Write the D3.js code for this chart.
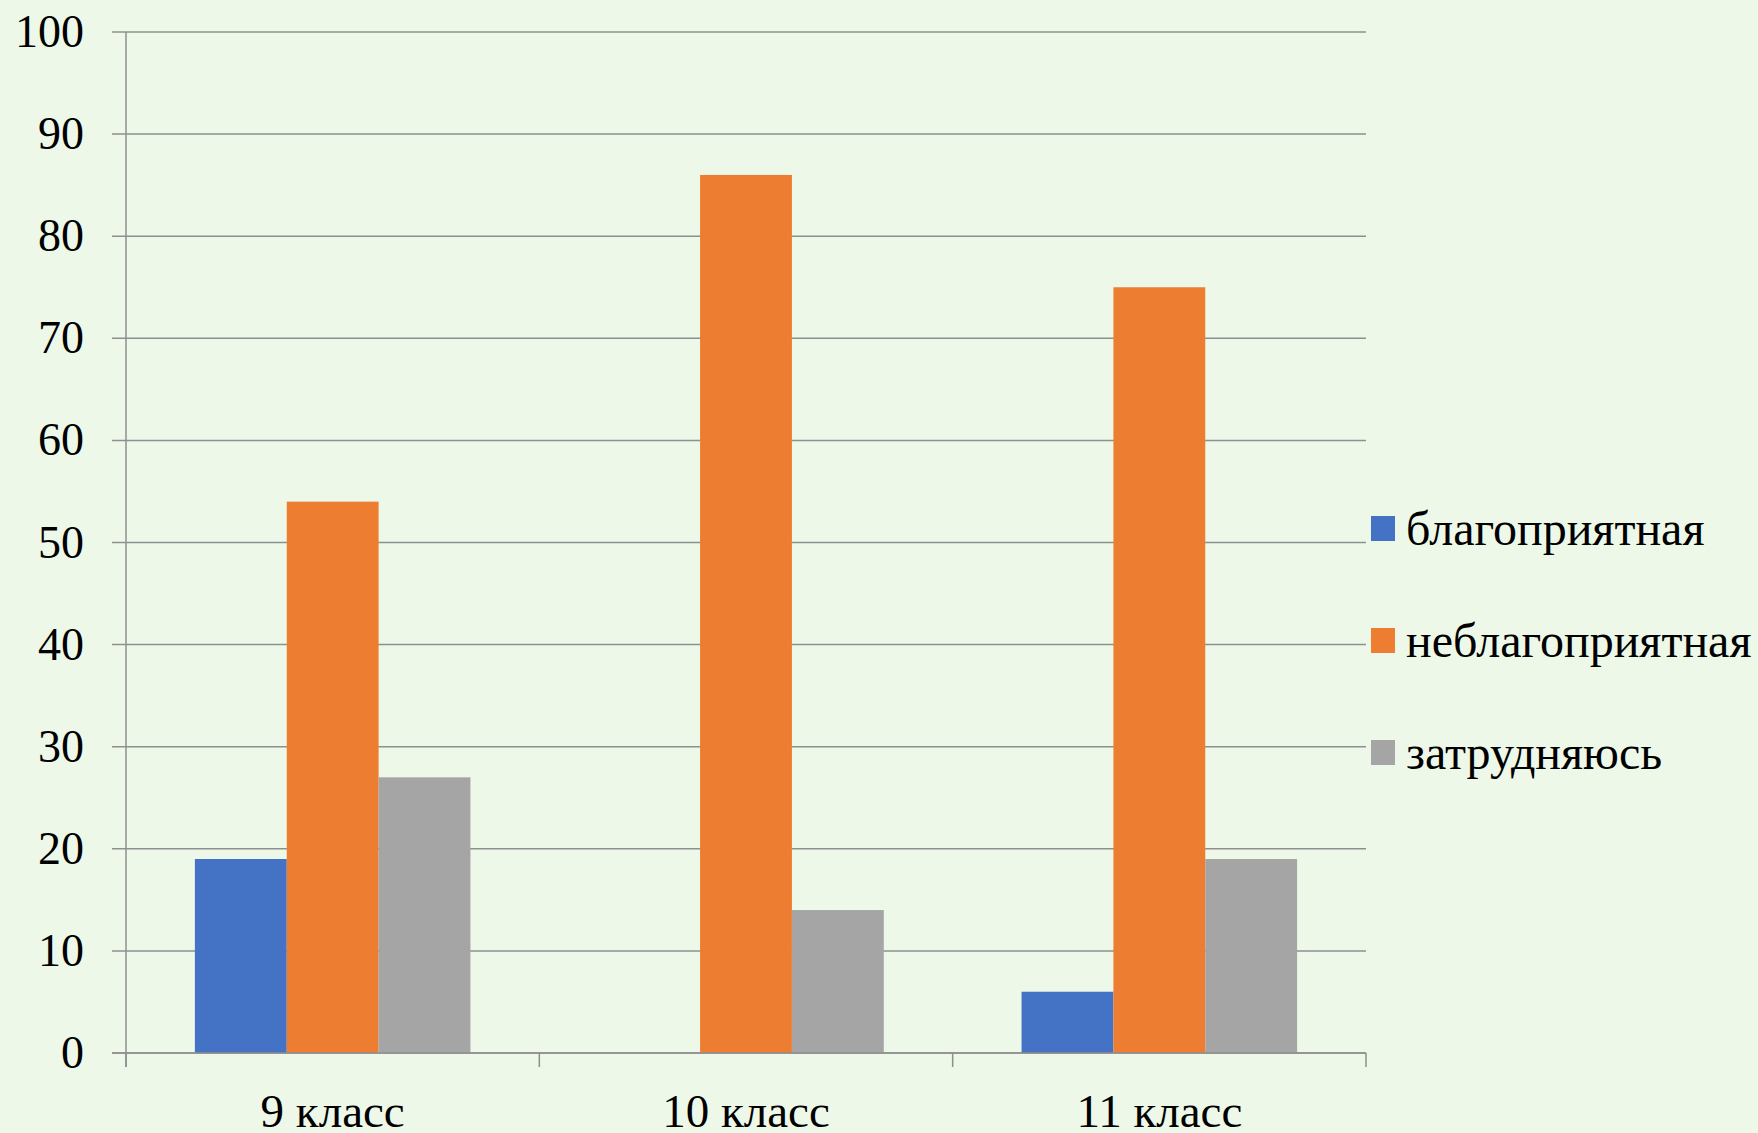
<!DOCTYPE html>
<html><head><meta charset="utf-8">
<script src="https://cdn.jsdelivr.net/npm/d3@7"></script>
<style>html,body{margin:0;padding:0;background:#EDF8E9;overflow:hidden}
svg text{font-family:"Liberation Serif","Times New Roman","DejaVu Serif",serif;fill:#000}</style>
</head><body>
<svg id="c" width="1758" height="1133"></svg>
<script>
const categories = ["9 класс", "10 класс", "11 класс"];
const seriesNames = ["благоприятная", "неблагоприятная", "затрудняюсь"];
const blagopriyatnaya = [19, 0, 6];
const neblagopriyatnaya = [54, 86, 75];
const zatrudnyayus = [27, 14, 19];
const yTicks = [0, 10, 20, 30, 40, 50, 60, 70, 80, 90, 100];
const colors = ["#4472C4", "#ED7D31", "#A5A5A5"];

const series = [blagopriyatnaya, neblagopriyatnaya, zatrudnyayus];
const svg = d3.select("#c");
svg.append("rect").attr("width",1758).attr("height",1133).attr("fill","#EDF8E9");
const L = 126, R = 1366, T = 32, B = 1053;

const x = d3.scaleBand().domain(categories).range([L, R]).paddingInner(0).paddingOuter(0);
const inner = d3.scaleBand().domain(d3.range(series.length)).range([0, x.bandwidth()]).paddingOuter(0.75).paddingInner(0);
const y = d3.scaleLinear().domain([0, 100]).range([B, T]);

// gridlines
svg.append("g").selectAll("line").data(yTicks).join("line")
  .attr("x1", L - 14).attr("x2", R)
  .attr("y1", d => y(d)).attr("y2", d => y(d))
  .attr("stroke", "#8F8F8F").attr("stroke-width", 1.5);

// y labels
svg.append("g").selectAll("text").data(yTicks).join("text")
  .attr("x", 84).attr("y", d => y(d) + 15)
  .attr("text-anchor", "end")
  .style("font-size", "46px")
  .text(d => d);

// bars
categories.forEach((c, ci) => {
  series.forEach((s, si) => {
    if (s[ci] > 0) {
      svg.append("rect")
        .attr("x", x(c) + inner(si)).attr("width", inner.bandwidth())
        .attr("y", y(s[ci])).attr("height", y(0) - y(s[ci]))
        .attr("fill", colors[si]);
    }
  });
});

// axes lines
svg.append("line").attr("x1", L).attr("x2", L).attr("y1", T).attr("y2", B + 14)
  .attr("stroke", "#8F8F8F").attr("stroke-width", 1.5);
svg.append("line").attr("x1", L - 14).attr("x2", R).attr("y1", B).attr("y2", B)
  .attr("stroke", "#8F8F8F").attr("stroke-width", 1.5);
const bounds = [L].concat(categories.map(c => x(c) + x.bandwidth()));
svg.append("g").selectAll("line").data(bounds).join("line")
  .attr("x1", d => d).attr("x2", d => d).attr("y1", B).attr("y2", B + 14)
  .attr("stroke", "#8F8F8F").attr("stroke-width", 1.5);

// x labels
svg.append("g").selectAll("text").data(categories).join("text")
  .attr("x", d => x(d) + x.bandwidth() / 2).attr("y", B + 74)
  .attr("text-anchor", "middle")
  .style("font-size", "47px")
  .text(d => d);

// legend
const lg = svg.append("g");
seriesNames.forEach((n, i) => {
  const yy = 516 + i * 112;
  lg.append("rect").attr("x", 1371).attr("y", yy).attr("width", 24).attr("height", 25).attr("fill", colors[i]);
  lg.append("text").attr("x", 1406).attr("y", yy + 29)
    .style("font-size", "48px").text(n);
});
</script>
</body></html>
